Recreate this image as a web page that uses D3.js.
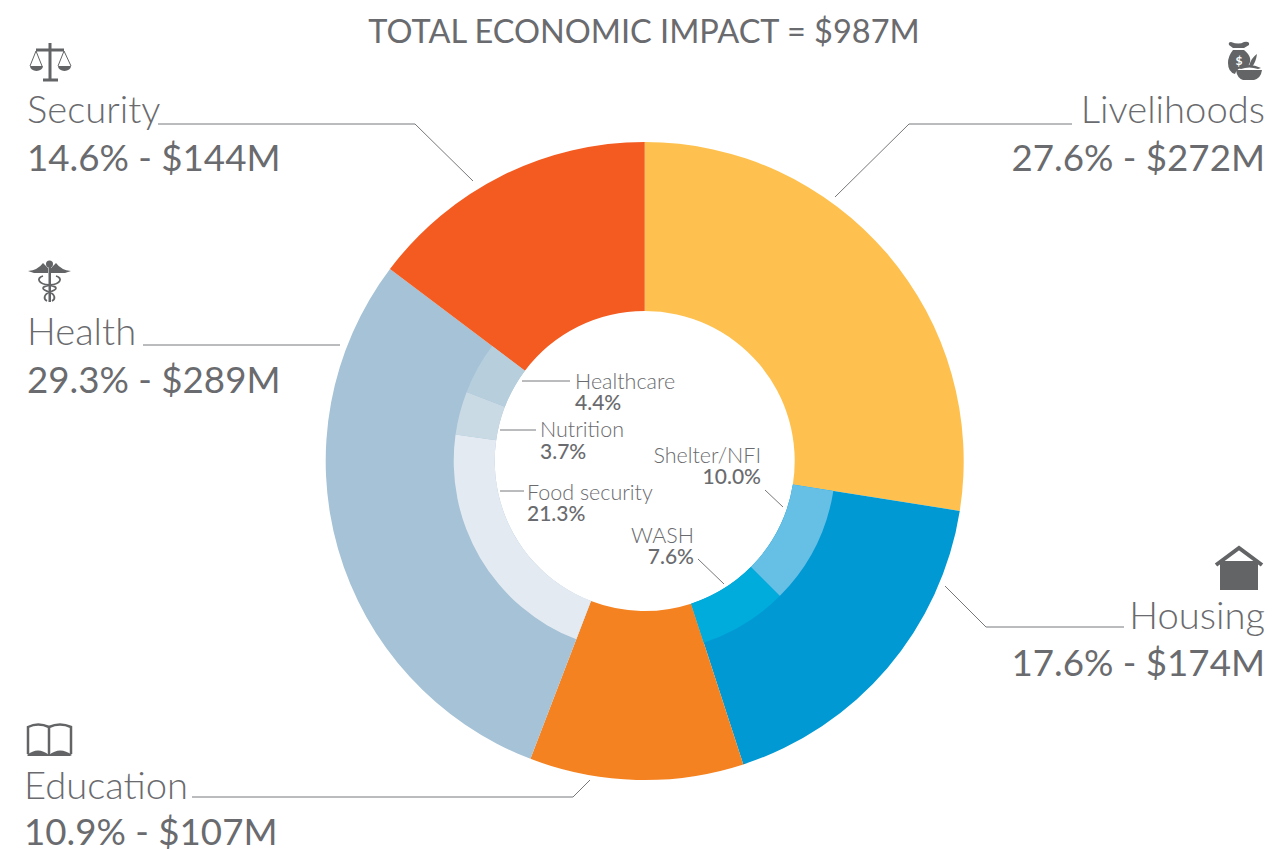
<!DOCTYPE html>
<html><head><meta charset="utf-8">
<script src="https://cdnjs.cloudflare.com/ajax/libs/d3/7.8.5/d3.min.js"></script>
<style>
html,body{margin:0;padding:0;background:#fff}
svg{display:block}
text{font-family:Lato,"Open Sans",sans-serif;fill:#6a6b6e}
</style></head><body>
<svg id="c" width="1272" height="850"></svg>
<script>
const titleText = "TOTAL ECONOMIC IMPACT = $987M";
const sectors = ["Livelihoods","Housing","Education","Health","Security"];
const sectorLabel = ["27.6%","17.6%","10.9%","29.3%","14.6%"];
const sectorValue = ["$272M","$174M","$107M","$289M","$144M"];
const sectorShare = [27.5,17.5,10.83,29.45,14.72];
const sectorColors = ["#fec14f","#0099d3","#f58220","#a5c2d6","#f35b21"];
const subNames = ["Livelihoods","Shelter/NFI","WASH","Education","Food security","Nutrition","Healthcare","Security"];
const subLabel = ["","10.0%","7.6%","","21.3%","3.7%","4.4%",""];
const subShare = [27.5,10.0,7.5,10.83,21.39,3.67,4.39,14.72];
const subColors = ["#fec14f","#66bfe5","#00acdc","#f58220","#e4eaf2","#c9dae5","#b7cedd","#f35b21"];

const W=1272,H=850,cx=644.7,cy=461,R=319,Rmid=191,Rin=150;
const svg=d3.select("#c");
const g=svg.append("g").attr("transform",`translate(${cx},${cy})`);
const pie=d3.pie().sort(null).value(d=>d);
const outer=d3.arc().innerRadius(Rin).outerRadius(R);
const inner=d3.arc().innerRadius(Rin).outerRadius(Rmid);
g.selectAll("path.o").data(pie(sectorShare)).join("path").attr("class","o")
 .attr("d",outer).attr("fill",(d,i)=>sectorColors[i]);
g.selectAll("path.i").data(pie(subShare).filter((d,i)=>subLabel[i]!=="")).join("path").attr("class","i")
 .attr("d",inner).attr("fill",d=>subColors[d.index]);

svg.append("text").attr("x",644).attr("y",43).attr("text-anchor","middle")
 .attr("font-size",32.5).attr("font-weight",400).text(titleText);

const line=d3.line();
const leader=p=>svg.append("path").attr("d",line(p)).attr("fill","none").attr("stroke","#77787b").attr("stroke-width",1);
const mainLayout=[
 {i:0,x:1265,a:"end",y1:123,y2:171,pts:[[1072,124],[909,124],[835,197]]},
 {i:1,x:1265,a:"end",y1:629,y2:676,pts:[[1124,627],[986,627],[945,586]]},
 {i:2,x:24,a:"start",y1:799,y2:845,pts:[[192,797],[573,797],[590,780]]},
 {i:3,x:27,a:"start",y1:345,y2:393,pts:[[143,345],[340,345]]},
 {i:4,x:27,a:"start",y1:123,y2:171,pts:[[158,124],[415,124],[473,181]]}
];
mainLayout.forEach(m=>{
 leader(m.pts);
 svg.append("text").attr("x",m.x).attr("y",m.y1).attr("text-anchor",m.a).attr("font-size",38.2).attr("font-weight",300).text(sectors[m.i]);
 svg.append("text").attr("x",m.x).attr("y",m.y2).attr("text-anchor",m.a).attr("font-size",36.7).attr("font-weight",400)
  .text(`${sectorLabel[m.i]} - ${sectorValue[m.i]}`);
});
const subLayout=[
 {i:6,x:575,a:"start",y1:389,y2:410,pts:[[522,381],[570,381]]},
 {i:5,x:540,a:"start",y1:437,y2:459,pts:[[500,430],[536,430]]},
 {i:4,x:527,a:"start",y1:500,y2:521,pts:[[500,491],[524,491]]},
 {i:1,x:761,a:"end",y1:463,y2:484,pts:[[765,490],[783,507]]},
 {i:2,x:694,a:"end",y1:543,y2:564,pts:[[698,559],[724,584]]}
];
subLayout.forEach(m=>{
 leader(m.pts);
 svg.append("text").attr("x",m.x).attr("y",m.y1).attr("text-anchor",m.a).attr("font-size",21.5).attr("font-weight",300).text(subNames[m.i]);
 svg.append("text").attr("x",m.x).attr("y",m.y2).attr("text-anchor",m.a).attr("font-size",21).attr("font-weight",500).text(subLabel[m.i]);
});

// icons
const ic="#636466";
const scales=svg.append("g").attr("fill","none").attr("stroke",ic);
scales.append("path").attr("d","M50 43V80M36 50H64M43 80H58").attr("stroke-width",3);
scales.append("path").attr("d","M36 51L30 66M36 51L42 66M64 51L58 66M64 51L71 66").attr("stroke-width",1);
scales.append("path").attr("d","M30 66H43A6.5 5 0 0 1 30 66ZM58 66H71A6.5 5 0 0 1 58 66Z").attr("fill",ic).attr("stroke","none");

const bag=svg.append("g").attr("fill",ic);
bag.append("path").attr("d","M1231 42Q1239 45 1244 42Q1250 41 1249 45L1244 48H1233L1229 45Q1228 42 1231 42Z");
bag.append("path").attr("d","M1233 50H1244Q1254 58 1248 66Q1238 66 1235 74Q1228 72 1228 63Q1228 56 1233 50Z");
bag.append("path").attr("d","M1236 70H1262Q1261 78 1254 80H1243Q1237 78 1236 70Z");
bag.append("path").attr("d","M1237 68Q1249 62 1261 68L1258 69Q1249 66 1241 69Z");
bag.append("path").attr("d","M1249 66Q1251 58 1257 54Q1256 62 1252 67Z");
svg.append("text").attr("x",1239).attr("y",65).attr("text-anchor","middle").attr("font-size",12).attr("font-weight",700).style("fill","#fff").text("$");

const cad=svg.append("g").attr("fill",ic);
cad.append("circle").attr("cx",49.5).attr("cy",264).attr("r",3.5);
cad.append("path").attr("d","M28 271Q38 270 43 263L48 268V273H34ZM71 271Q61 270 56 263L51 268V273H65Z");
cad.append("rect").attr("x",48.5).attr("y",266).attr("width",2.5).attr("height",36);
cad.append("path").attr("d","M43 276C36 278 38 284 49 285C60 287 56 290 50 292C44 294 43 299 47 301M56 276C63 278 61 284 50 285C39 287 43 290 49 292C55 294 56 299 52 301").attr("fill","none").attr("stroke",ic).attr("stroke-width",1.8);

svg.append("path").attr("d","M1216 565L1239 548L1262 565").attr("fill","none").attr("stroke",ic).attr("stroke-width",4);
svg.append("rect").attr("x",1220).attr("y",561).attr("width",38).attr("height",29).attr("fill",ic);

const book=svg.append("g").attr("fill","none").attr("stroke",ic);
book.append("path").attr("d","M28 754V727Q38 722 49 727Q60 722 71 727V754M49 727V756").attr("stroke-width",2.5);
book.append("path").attr("d","M27 755Q38 746 49 755Q60 746 72 755L70 756H28Z").attr("fill",ic).attr("stroke","none");
</script>
</body></html>
